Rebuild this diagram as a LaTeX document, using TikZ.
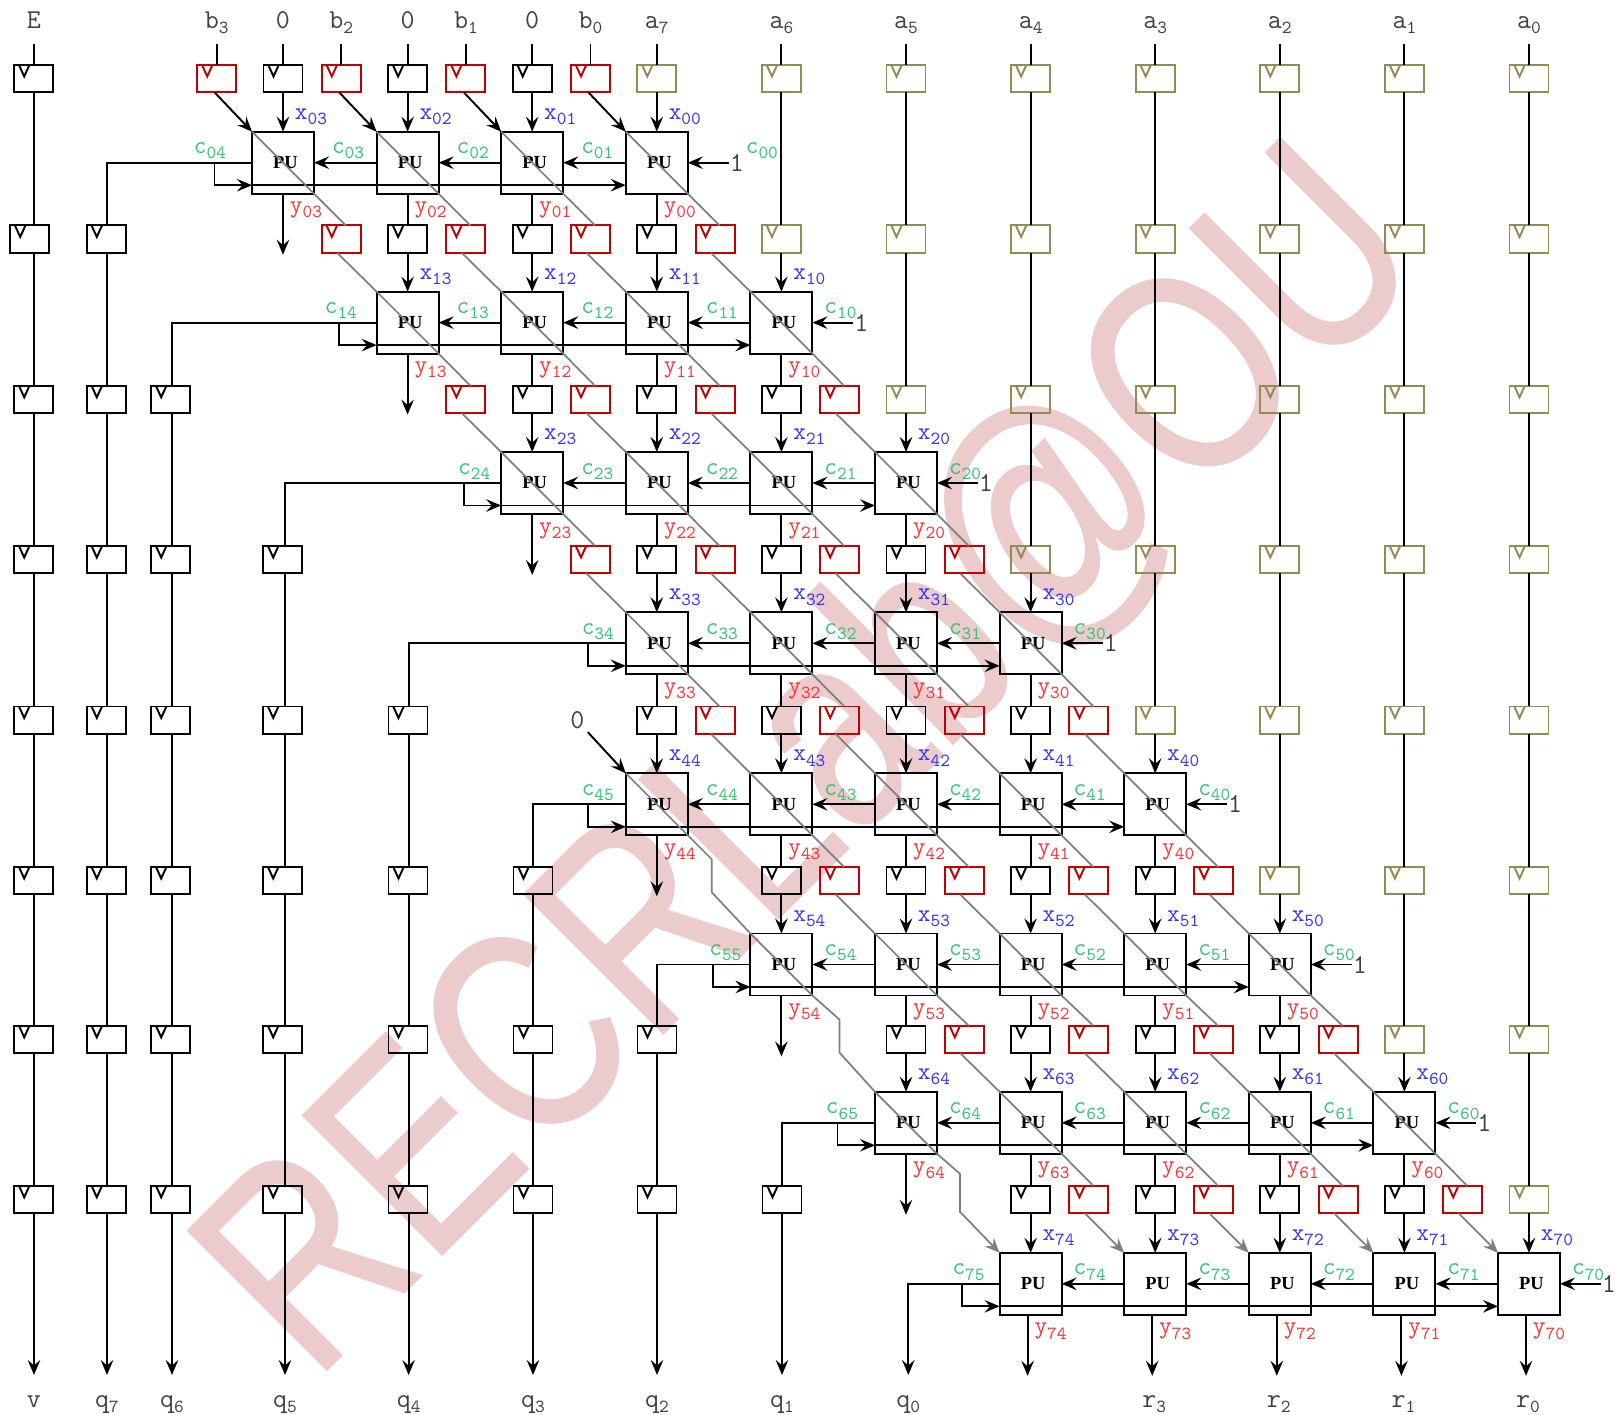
\documentclass[tikz,border=0pt]{standalone}
\usepackage{fontspec}
\usetikzlibrary{arrows.meta}
\newfontfamily\markfont[FakeBold=.6]{Liberation Sans}
\newfontfamily\pufont{Liberation Serif}
\definecolor{regred}{HTML}{C00000}
\definecolor{regolive}{HTML}{948A54}
\definecolor{labblue}{HTML}{3333FF}
\definecolor{labgreen}{HTML}{33C477}
\definecolor{labred}{HTML}{FF3333}
\definecolor{markpink}{HTML}{EBCBCB}
\newcommand{\lsub}[1]{\raisebox{-3pt}{\fontsize{10.5}{10.5}\selectfont #1}}
% row/first/last/first of next row/left c offset/y of PU/y of registers
\def\rowlist{0/0/3/1/-59/162.7/78.7,1/1/4/2/-52.7/322.6/239.2,2/2/5/3/-44/483/399.5,3/3/6/3/-45/643.3/559.7,4/3/7/4/-45/804.3/720.2,5/4/8/5/-42/964.5/880.7,6/5/9/6/-50/1122.8/1039.5,7/6/10/11/-48/1283.8/1199.5}
% column/wire x/register x/first row/label
\def\leftlist{0/34/33.7/0/v,1/107/106.3/1/q\lsub{7},2/172/170.7/2/q\lsub{6},3/285/282.7/3/q\lsub{5},4/408.6/408/4/q\lsub{4},5/533/533/5/q\lsub{3},6/657/657/6/q\lsub{2},7/782/782/7/q\lsub{1}}
\tikzset{
  pubox/.style={draw, minimum size=1.24cm, inner sep=0pt, outer sep=0pt, font=\fontsize{10.5}{10.5}\selectfont\pufont\bfseries},
  reg/.style={draw=#1, minimum width=.78cm, minimum height=.55cm, inner sep=0pt, outer sep=0pt,
    path picture={\draw[#1] ([shift={(4.3,-1)}]path picture bounding box.north west) -- ++(5.7,12.5) -- ++(5.7,-12.5);}},
  xlab/.style={labblue, anchor=base west, inner sep=0pt, font=\fontsize{14}{14}\selectfont\ttfamily},
  ylab/.style={xlab, text=labred},
  clab/.style={xlab, text=labgreen},
  iolab/.style={black!75, anchor=base, inner xsep=0pt, inner ysep=.19cm, text depth=.12cm, font=\fontsize{15.5}{15.5}\selectfont\ttfamily},
  wire/.style={gray, line width=1pt}
}
\begin{document}
\begin{tikzpicture}[>={Stealth[length=3mm,width=2.5mm,inset=1.1mm]}, x=0.02cm, y=-0.02cm, line width=1.1pt]
\useasboundingbox (0,0) rectangle (1619,1414);
\node[markpink, rotate=45, xscale=.787, anchor=base, inner sep=0pt, font=\fontsize{163}{163}\selectfont\markfont] (mark) at (873,824) {RECRLab@OU};
% processing units and their registers
\foreach \row/\first/\last/\nfirst/\cleft/\ypu/\yreg in \rowlist {
  \foreach \col in {\first,...,\last} {
    \pgfmathsetmacro\px{283+124.6*\col}
    \pgfmathtruncatemacro\idx{\last-\col}
    \pgfmathsetmacro\cshift{(\row==0 && \col==\last)*40+(\col<4)*1.5-(\col>=4)*4.5}
    \pgfmathsetmacro\yshift{(\row==7)*(-3)}
    \node[pubox] (pu-\row-\col) at (\px,\ypu) {\hspace{.1cm}PU};
    \node[xlab] (x-\row-\idx) at (\px+11,\ypu-43.5) {x\lsub{\row\idx}};
    \node[ylab] (y-\row-\idx) at (\px+6+\yshift,\ypu+50) {y\lsub{\row\idx}};
    \node[clab] (c-\row-\idx) at (\px+46.6+\cshift,\ypu-9) {c\lsub{\row\idx}};
  }
  \foreach \col in {\first,...,10} {
    \ifnum\col<\last \def\regc{black}\else\def\regc{regolive}\fi
    \node[reg=\regc] (reg-\row-\col) at (283+124.6*\col,\yreg) {};
  }
  \foreach \col in {\row,...,\last} {
    \node[reg=regred] (red-\row-\col) at (216.7+124.6*\col,\yreg) {};
  }
  \pgfmathtruncatemacro\idx{\last-\first+1}
  \node[clab] (c-\row-\idx) at (252+124.6*\first+\cleft,\ypu-9) {c\lsub{\row\idx}};
  \node[black!75, anchor=west, inner sep=0pt, font=\fontsize{15.5}{15.5}\selectfont\ttfamily] (one-\row) at (283+124.6*\last+72,\ypu) {1};
}
% left hand registers
\foreach \i/\wx/\rx/\start/\lab in \leftlist {
  \coordinate (w-\i) at (\wx,0);
  \coordinate (end-\i) at (\wx,1375);
  \node[iolab] (out-\i) at (\wx,1407) {\lab};
  \foreach \row/\first/\last/\nfirst/\cleft/\ypu/\yreg in \rowlist {
    \ifnum\row<\start\else
      \pgfmathsetmacro\rshift{(\i==0 && \row==1)*(-4)}
      \node[reg=black] (lreg-\i-\row) at (\rx+\rshift,\yreg) {};
    \fi
  }
}
\coordinate (w-8) at (908.3,0);
\coordinate (end-8) at (908.3,1375);
\node[iolab] (out-8) at (908.3,1407) {q\lsub{0}};
\foreach \col/\n in {7/3,8/2,9/1,10/0} {
  \node[iolab] (r-\n) at (283+124.6*\col-1,1407) {r\lsub{\n}};
}
% inputs along the top
\node[iolab] (top-E) at (34,28) {E};
\foreach \col/\n in {0/3,1/2,2/1,3/0} {
  \node[iolab] (b-\n) at (216.7+124.6*\col,28) {b\lsub{\n}};
}
\foreach \col in {0,1,2} {
  \node[iolab] (zero-\col) at (283+124.6*\col,28) {0};
}
\foreach \col/\n in {3/7,4/6,5/5,6/4,7/3,8/2,9/1,10/0} {
  \node[iolab] (a-\n) at (283+124.6*\col,28) {a\lsub{\n}};
}
\node[black!75, inner sep=.05cm, font=\fontsize{15.5}{15.5}\selectfont\ttfamily] (zero-in) at (577.3,720) {0};
\draw (top-E.south) -- (lreg-0-0.north -| w-0);
\foreach \col/\n in {0/3,1/2,2/1,3/0} {
  \draw (b-\n.south) -- (red-0-\col.north);
  \draw[->] ([xshift=-.04cm]red-0-\col.south) -- (pu-0-\col.north west);
}
\foreach \col in {0,1,2} \draw (zero-\col.south) -- (reg-0-\col.north);
\foreach \col/\n in {3/7,4/6,5/5,6/4,7/3,8/2,9/1,10/0} \draw (a-\n.south) -- (reg-0-\col.north);
\draw[->] (zero-in.south east) -- (pu-4-3.north west);
% connections of each row
\foreach \row/\first/\last/\nfirst/\cleft/\ypu/\yreg in \rowlist {
  \pgfmathtruncatemacro\nrow{\row+1}
  \pgfmathtruncatemacro\nline{\row+1}
  \pgfmathsetmacro\xsft{(\row==7)*(-.06)}
  \foreach \col in {\first,...,10} {
    \ifnum\col>\last
      \draw (reg-\row-\col.south) -- (reg-\nrow-\col.north);
    \else
      \draw[->] (reg-\row-\col.south) -- (pu-\row-\col.north);
      \ifnum\col<\nfirst
        \draw[->] ([xshift=\xsft cm]pu-\row-\col.south) -- ++(0,61);
      \else
        \draw (pu-\row-\col.south) -- (reg-\nrow-\col.north);
      \fi
    \fi
    \ifnum\col<\last
      \pgfmathtruncatemacro\ncol{\col+1}
      \draw[->] (pu-\row-\ncol.west) -- (pu-\row-\col.east);
    \fi
  }
  \draw[->] (one-\row.west) -- (pu-\row-\last.east);
  \draw[->] ([xshift=-.75cm]pu-\row-\first.west) |- ([yshift=-.45cm]pu-\row-\first.west);
  \draw[->] ([yshift=-.45cm]pu-\row-\first.west) -- ([yshift=-.45cm]pu-\row-\last.west);
  \ifnum\row<7
    \draw (pu-\row-\first.west) -| (lreg-\nline-\nrow.north -| w-\nline);
  \else
    \draw[->] (pu-\row-\first.west) -| (end-8);
  \fi
  % diagonal wires
  \ifnum\row<7
    \foreach \col in {\first,...,\last} {
      \pgfmathtruncatemacro\ncol{\col+1}
      \draw[wire] (pu-\row-\col.north west) -- (pu-\row-\col.south east);
      \ifnum\col<\row\else
        \draw[wire] (pu-\row-\col.south east) -- ([xshift=.09cm]red-\nrow-\ncol.north);
      \fi
    }
  \fi
  \ifnum\row>0
    \foreach \col in {\row,...,\last} {
      \ifnum\row<7
        \draw[wire] ([xshift=-.08cm]red-\row-\col.south) -- (pu-\row-\col.north west);
      \else
        \draw[wire,->] ([xshift=-.08cm]red-\row-\col.south) -- (pu-\row-\col.north west);
      \fi
    }
  \fi
}
\draw[wire] (pu-4-3.south east) -- ++(24,24) -- ++(0,33) -- (pu-5-4.north west);
\draw[wire] (pu-5-4.south east) -- ++(27,24) -- ++(0,33) -- (pu-6-5.north west);
\draw[wire,->] (pu-6-5.south east) -- ++(23,20) -- ++(0,38) -- (pu-7-6.north west);
% left hand columns
\foreach \i/\wx/\rx/\start/\lab in \leftlist {
  \foreach \row in {\start,...,7} {
    \pgfmathtruncatemacro\nrow{\row+1}
    \ifnum\row<7
      \draw (lreg-\i-\row.south -| w-\i) -- (lreg-\i-\nrow.north -| w-\i);
    \else
      \draw[->] (lreg-\i-\row.south -| w-\i) -- (end-\i);
    \fi
  }
}
\end{tikzpicture}
\end{document}
